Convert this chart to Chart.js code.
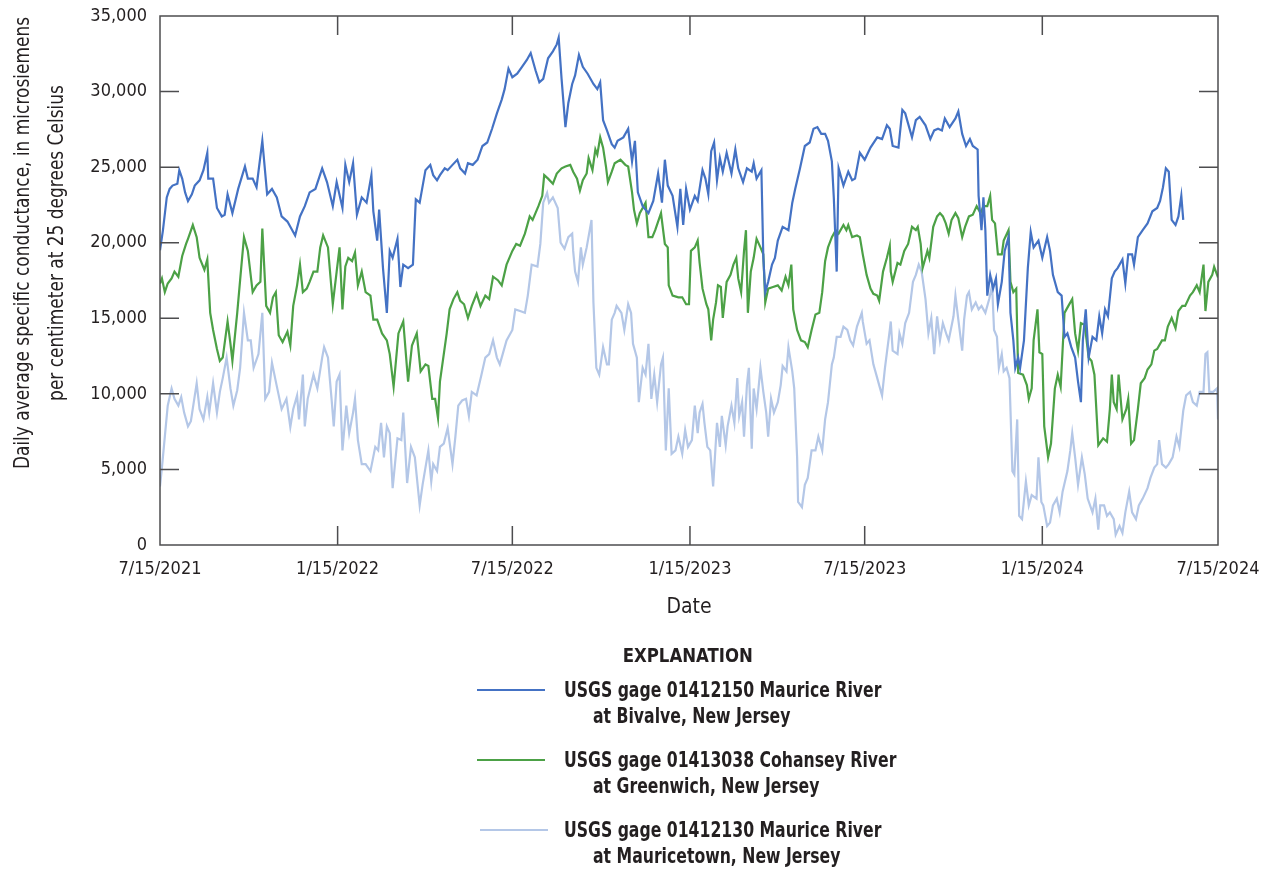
<!DOCTYPE html>
<html>
<head>
<meta charset="utf-8">
<script src="https://cdn.jsdelivr.net/npm/chart.js@4.4.1/dist/chart.umd.min.js"></script>
<style>
  html, body { margin: 0; padding: 0; background: #fff; }
  #wrap { position: relative; width: 1270px; height: 869px; }
  #chart { position: absolute; left: 0; top: 0; }
  .lg { position: absolute; font-family: 'Liberation Sans Narrow', 'DejaVu Sans Condensed', sans-serif;
        font-weight: bold; color: #231f20; white-space: nowrap; }
  .lg span { display: inline-block; transform-origin: 0 50%; }
  .lgline { position: absolute; height: 2px; }
</style>
</head>
<body>
<div id="wrap">
  <canvas id="chart" width="1270" height="869"></canvas>
</div>
<script>
// x values are days since 7/15/2021
const tickDays = [0, 184, 365, 549, 730, 914, 1096];
const tickLabels = ['7/15/2021', '1/15/2022', '7/15/2022', '1/15/2023', '7/15/2023', '1/15/2024', '7/15/2024'];

const seriesNames = [
  ['USGS gage 01412150 Maurice River', 'at Bivalve, New Jersey'],
  ['USGS gage 01413038 Cohansey River', 'at Greenwich, New Jersey'],
  ['USGS gage 01412130 Maurice River', 'at Mauricetown, New Jersey']
];
const seriesColors = ['#4472c4', '#4ca146', '#b4c7e7'];

// Maurice River at Bivalve
const bivalveDays = [0,3,7,10,13,18,20,23,26,29,33,36,41,45,49,50,55,59,64,67,70,75,81,88,91,96,100,106,111,116,121,126,132,137,140,145,150,155,161,168,173,179,183,189,192,196,200,204,209,214,219,221,225,227,231,235,238,241,246,249,252,257,262,265,269,275,280,283,287,290,295,298,303,308,311,316,319,324,329,334,339,344,349,354,357,361,365,370,375,380,384,389,393,397,402,407,411,413,416,420,423,427,430,434,438,443,449,453,456,459,463,468,471,474,480,485,489,492,495,500,506,511,516,520,523,526,531,536,539,542,545,549,554,557,562,565,568,571,574,577,580,583,587,592,596,599,604,608,613,615,618,623,625,627,630,634,637,640,645,651,655,658,663,668,673,677,681,685,689,692,696,698,701,703,708,713,717,720,725,730,736,743,748,753,756,759,765,769,772,775,779,783,787,793,798,802,806,810,813,818,824,827,831,835,839,842,847,848,851,853,855,857,860,863,866,868,872,875,879,881,884,886,889,891,895,899,902,905,910,914,919,922,925,930,934,937,940,944,948,951,954,956,959,962,966,970,973,976,979,982,986,989,992,997,1000,1003,1007,1009,1013,1018,1023,1028,1033,1036,1039,1042,1045,1048,1052,1055,1058,1060];
const bivalveValues = [19500,20800,23000,23560,23780,23900,24800,24240,23330,22760,23200,23780,24130,24800,25950,24240,24240,22300,21740,21850,23200,21960,23560,25040,24240,24240,23670,26740,23200,23560,23000,21740,21400,20830,20480,21740,22420,23330,23560,24920,24010,22420,24010,22300,25150,24010,25260,21850,23000,22650,24470,22080,20140,22190,18320,15360,19460,19000,20260,17070,18550,18320,18550,22870,22650,24800,25150,24470,24130,24470,24920,24800,25150,25490,24920,24580,25260,25150,25490,26400,26630,27540,28560,29470,30160,31520,30950,31180,31640,32090,32550,31410,30610,30840,32200,32660,33120,33570,30840,27650,29250,30500,31070,32430,31640,31180,30500,30160,30610,28110,27430,26520,26290,26740,26970,27540,25380,26740,23330,22420,21960,22760,24580,22650,25490,23780,23100,21050,23560,21170,23560,22190,23100,22760,24800,24240,23210,26060,26630,24130,25600,24700,25950,24580,26170,24920,24010,24920,24700,25260,24240,24800,19000,16730,17410,18550,19000,20140,21050,20830,22650,23560,24920,26400,26630,27540,27650,27200,27200,26740,25380,23000,18090,24920,23780,24700,24130,24240,25950,25490,26290,26970,26860,27770,27540,26400,26290,28790,28560,27880,26970,28110,28330,27770,26860,27430,27540,27430,28220,27650,28220,28680,27200,26400,26860,26400,26170,23100,20830,23000,20830,16500,17870,16960,17640,15930,17410,19460,20370,15360,13540,11720,12400,11720,13540,18320,20710,19690,20140,19000,20370,19460,17870,16730,16500,13770,14000,13090,12400,10810,9450,13540,15590,12400,13770,13540,15130,14000,15590,15130,17640,18090,18320,18890,17300,19230,19230,18550,20370,20830,21280,22080,22300,22760,23670,24920,24700,21510,21170,21740,23100,21510];

// Cohansey River at Greenwich
const greenwichDays = [0,2,5,8,12,15,19,23,27,29,34,38,41,46,49,52,55,59,62,65,70,73,75,80,83,87,91,96,100,104,106,110,114,117,120,123,127,132,135,138,142,145,148,152,155,159,163,166,169,174,179,183,186,189,192,195,199,202,205,209,213,218,221,225,230,235,238,242,247,252,257,261,266,270,275,278,282,285,288,290,293,297,300,304,308,311,315,319,323,328,332,337,341,345,350,354,359,365,369,373,378,383,386,392,396,398,402,407,411,416,420,425,428,432,435,438,442,444,448,451,453,456,459,462,464,468,471,477,482,485,489,491,494,497,500,503,506,510,513,516,519,523,526,527,531,537,541,545,548,550,554,557,559,562,566,568,571,573,576,578,581,583,587,591,594,597,599,602,605,607,609,612,615,618,622,625,627,630,635,640,644,648,651,654,656,660,664,668,671,675,679,683,686,689,692,696,700,703,708,711,713,717,722,725,728,732,736,739,743,745,749,753,756,757,759,764,767,771,775,779,783,785,788,790,795,797,801,805,808,811,814,817,820,824,827,831,834,838,842,846,850,853,857,860,862,865,868,872,874,879,881,884,887,889,894,898,900,903,905,909,911,914,916,920,923,927,930,933,937,941,945,948,951,954,958,962,965,968,972,977,981,984,986,988,991,993,997,1001,1003,1006,1009,1013,1016,1020,1023,1027,1030,1033,1038,1041,1044,1048,1052,1055,1059,1062,1067,1070,1074,1077,1081,1083,1086,1090,1092,1096];
const greenwichValues = [17300,17640,16730,17300,17640,18090,17750,19120,19920,20260,21170,20370,19000,18210,18890,15360,14230,12970,12180,12400,14790,13310,12180,15360,17520,20370,19460,16730,17180,17410,20940,15820,15360,16390,16730,13880,13430,14110,13200,15820,17180,18550,16730,16960,17410,18090,18090,19690,20480,19690,15930,18090,19690,15590,18430,19000,18780,19350,17180,18090,16730,16500,14910,14910,14000,13540,12630,10470,14000,14790,10810,13200,14000,11490,11950,11840,9670,9670,8400,10810,12180,14000,15590,16270,16730,16160,15930,15020,15820,16620,15820,16500,16270,17750,17520,17180,18550,19460,19920,19800,20600,21740,21510,22420,23100,24470,24240,23900,24580,24920,25040,25150,24700,24240,23440,24130,24580,25600,24800,26170,25830,26970,26290,25040,24010,24700,25260,25490,25150,25040,23330,22190,21280,21960,22300,22650,20370,20370,20830,21400,21960,19920,19690,17180,16500,16390,16390,15930,15930,19460,19690,20140,18660,16960,15930,15590,13540,14910,16050,17180,17070,15020,17410,17870,18550,19000,17640,16730,19460,20830,15360,18090,19000,20260,19690,19230,16050,16960,17070,17180,16840,17750,17180,18550,15590,14230,13540,13430,13090,14230,15250,15360,16730,18780,19690,20370,20830,20600,21170,20830,21170,20370,20480,20370,19230,17870,16960,16620,16500,16160,18090,19000,19800,18090,17410,18660,18550,19460,19920,21050,20830,21050,19920,18320,19460,19000,21050,21740,21960,21740,21280,20600,21510,21960,21620,20370,21050,21740,21850,22420,21960,22420,22420,23100,21510,21280,19230,19230,20140,20830,17410,16730,16960,11380,11270,10580,9670,10360,13540,15590,12750,12630,7850,5800,6710,10360,11270,10470,15360,15820,16270,14000,12860,14680,14560,12400,12180,11270,6600,7060,6830,8990,11270,9450,8990,11270,8310,8990,9670,6710,6940,8990,10700,11040,11610,11950,12860,12970,13540,13540,14450,15020,14340,15480,15820,15820,16500,16730,17180,16730,18550,15480,17410,17870,18400,17700];

// Maurice River at Mauricetown
const mauricetownDays = [0,2,5,8,12,15,19,22,25,29,32,35,38,41,45,49,51,55,59,62,65,69,73,76,80,83,87,91,94,97,102,106,109,113,116,120,123,126,131,135,138,142,144,148,150,153,159,163,168,170,174,178,180,183,186,189,193,196,200,202,205,209,213,218,223,226,229,232,235,238,241,246,250,252,256,260,264,269,272,278,281,283,287,290,294,298,303,306,309,313,317,320,323,328,333,337,341,345,349,352,355,359,365,368,373,378,381,385,391,394,397,401,403,407,412,415,419,423,427,428,430,433,436,438,442,447,449,452,455,459,463,465,468,471,473,478,481,485,488,490,494,496,500,503,506,509,512,515,519,521,524,527,530,534,537,541,544,547,551,554,557,559,562,564,567,570,573,577,580,582,586,588,592,595,598,600,603,605,608,610,613,615,618,622,625,628,630,633,636,640,643,645,649,651,655,657,660,661,665,668,671,675,679,682,686,689,692,696,698,701,705,708,712,715,718,722,727,728,732,735,739,742,745,748,751,756,757,759,764,766,769,772,776,780,783,786,789,793,796,799,802,805,808,811,815,817,822,824,827,831,833,836,838,841,845,848,851,855,859,862,864,867,869,872,874,877,880,883,885,888,890,893,897,900,903,908,910,913,915,919,922,925,929,932,935,940,943,945,948,951,955,958,961,966,969,972,974,978,981,984,988,990,994,997,1000,1004,1007,1011,1014,1018,1023,1026,1030,1033,1035,1038,1042,1045,1049,1053,1056,1060,1063,1067,1070,1074,1077,1081,1083,1085,1087,1091,1095,1096];
const mauricetownValues = [3870,5120,7170,9220,10360,9670,9220,9790,8760,7850,8190,9450,10700,8990,8310,9790,8760,10700,8760,10130,11040,12400,10360,9220,10240,11720,15360,13540,13540,11720,12630,15360,9670,10130,12060,10810,9900,8990,9670,7800,8990,9900,8310,11270,7850,9670,11270,10360,12400,13090,12400,9450,7850,10810,11270,6260,9220,7400,8760,9670,6940,5350,5350,4890,6490,6260,8080,5800,7850,7400,3760,7060,6940,8760,4100,6490,5800,2620,3980,6260,4210,5350,4890,6490,6710,7740,5350,7170,9220,9560,9670,8540,10130,9900,11270,12400,12630,13540,12400,11950,12630,13540,14230,15590,15480,15360,16500,18550,18430,19920,22650,23300,22650,23000,22300,20000,19600,20370,20600,19460,18090,17410,19690,18550,19690,21500,16050,11720,11270,13090,11950,11950,14910,15360,15820,15360,14230,15930,15360,13310,12400,9450,11720,11270,13310,9670,11270,9450,11950,12400,6260,10360,6030,6260,7170,6030,7620,6490,6940,9220,7400,8760,9330,8080,6490,6260,3870,8080,6490,8540,6600,7850,9220,8080,11040,8540,9450,7170,10580,11720,6370,10360,8990,11720,10130,8760,7170,9670,8760,9450,10580,11840,11490,13090,11490,10360,5800,2850,2500,3980,4440,6260,6260,7170,6260,8310,9450,11950,12400,13770,13770,14450,14230,13540,13200,14450,15360,14790,13310,13540,11950,11270,10580,9900,11720,14230,14790,12860,12630,14000,13310,14680,15360,17410,17870,18550,18090,16270,14000,15020,12630,15130,13540,14680,13880,13540,15130,16500,14910,12860,14910,16500,16730,15590,16050,15590,15820,15360,16270,17180,14230,13770,11720,12630,11490,11720,11040,4890,4670,8310,1930,1710,4210,2620,3300,3070,5800,2850,2620,1250,1480,2620,3070,2160,3530,4890,6260,7400,5800,3980,5800,4670,3070,2160,3070,1020,2620,2620,1930,2160,1710,680,1250,800,2160,3530,2160,1710,2620,3070,3760,4440,5120,5350,6940,5350,5120,5350,5800,7170,6490,8880,9900,10130,9450,9220,10130,10130,12630,12750,10130,10130,10360,8300];

const FONT = "'Liberation Sans Narrow', 'DejaVu Sans Condensed', sans-serif";
const TEXT = '#231f20';

function points(days, values) {
  return days.map((d, i) => ({ x: d, y: values[i] }));
}

const frameAndTitles = {
  id: 'frameAndTitles',
  afterDatasetsDraw(chart) {
    const { ctx, chartArea: a, scales: { x, y } } = chart;
    const tick = 19;
    ctx.save();
    ctx.strokeStyle = '#4d4d4f';
    ctx.lineWidth = 1.5;
    ctx.strokeRect(a.left, a.top, a.right - a.left, a.bottom - a.top);
    ctx.beginPath();
    y.ticks.forEach(t => {
      const py = y.getPixelForValue(t.value);
      if (py <= a.top + 1 || py >= a.bottom - 1) return;
      ctx.moveTo(a.left, py); ctx.lineTo(a.left + tick, py);
      ctx.moveTo(a.right, py); ctx.lineTo(a.right - tick, py);
    });
    x.ticks.forEach(t => {
      const px = x.getPixelForValue(t.value);
      if (px <= a.left + 1 || px >= a.right - 1) return;
      ctx.moveTo(px, a.bottom); ctx.lineTo(px, a.bottom - tick);
      ctx.moveTo(px, a.top); ctx.lineTo(px, a.top + tick);
    });
    ctx.stroke();

    // axis titles
    ctx.fillStyle = TEXT;
    ctx.font = '21px ' + FONT;
    ctx.textAlign = 'center';
    ctx.textBaseline = 'middle';
    ctx.fillText('Date', (a.left + a.right) / 2, 608);
    ctx.translate(24, 243);
    ctx.rotate(-Math.PI / 2);
    ctx.scale(0.9, 1);
    ctx.fillText('Daily average specific conductance, in microsiemens', 0, 0);
    ctx.fillText('per centimeter at 25 degrees Celsius', 0, 34);
    ctx.restore();
  }
};

const chart = new Chart(document.getElementById('chart').getContext('2d'), {
  type: 'line',
  data: {
    datasets: [
      { label: seriesNames[0].join(' '), data: points(bivalveDays, bivalveValues), borderColor: seriesColors[0] },
      { label: seriesNames[1].join(' '), data: points(greenwichDays, greenwichValues), borderColor: seriesColors[1] },
      { label: seriesNames[2].join(' '), data: points(mauricetownDays, mauricetownValues), borderColor: seriesColors[2] }
    ]
  },
  options: {
    responsive: false,
    animation: false,
    layout: { padding: { top: 16, right: 52, left: 0, bottom: 0 } },
    elements: { point: { radius: 0 }, line: { borderWidth: 2.2, tension: 0 } },
    plugins: { legend: { display: false }, tooltip: { enabled: false } },
    scales: {
      x: {
        type: 'linear', min: 0, max: 1096,
        afterBuildTicks: s => { s.ticks = tickDays.map(v => ({ value: v })); },
        afterFit: s => { s.height = 324; s.paddingLeft = 0; s.paddingRight = 0; },
        grid: { display: false, drawTicks: false },
        border: { display: false },
        ticks: {
          autoSkip: false, minRotation: 0, maxRotation: 0, padding: 14,
          color: TEXT, font: { family: FONT, size: 18 },
          callback: v => tickLabels[tickDays.indexOf(v)]
        }
      },
      y: {
        min: 0, max: 35000,
        afterFit: s => { s.width = 160; s.paddingTop = 0; s.paddingBottom = 0; },
        grid: { display: false, drawTicks: false },
        border: { display: false },
        ticks: {
          stepSize: 5000, padding: 13,
          color: TEXT, font: { family: FONT, size: 18 },
          callback: v => v.toLocaleString('en-US')
        }
      }
    }
  },
  plugins: [frameAndTitles]
});

// explanation (legend) below the chart
const wrap = document.getElementById('wrap');
const head = document.createElement('div');
head.className = 'lg';
head.style.cssText = 'left:0;width:1376px;text-align:center;top:643px;font-size:20px;line-height:24px;';
head.innerHTML = '<span style="transform-origin:50% 50%;transform:scaleX(0.92)">EXPLANATION</span>';
wrap.appendChild(head);
seriesNames.forEach((name, i) => {
  const top = 690 + i * 70;
  const ln = document.createElement('div');
  ln.className = 'lgline';
  ln.style.cssText = `left:${477 + (i === 2 ? 3 : 0)}px;width:68px;top:${top - 1}px;background:${seriesColors[i]};`;
  wrap.appendChild(ln);
  const tx = document.createElement('div');
  tx.className = 'lg';
  tx.style.cssText = `left:564px;top:${top - 13}px;font-size:21px;line-height:26px;`;
  tx.innerHTML = `<div><span style="transform:scaleX(0.83)">${name[0]}</span></div>` +
                 `<div style="padding-left:29px"><span style="transform:scaleX(0.83)">${name[1]}</span></div>`;
  wrap.appendChild(tx);
});
</script>
</body>
</html>
